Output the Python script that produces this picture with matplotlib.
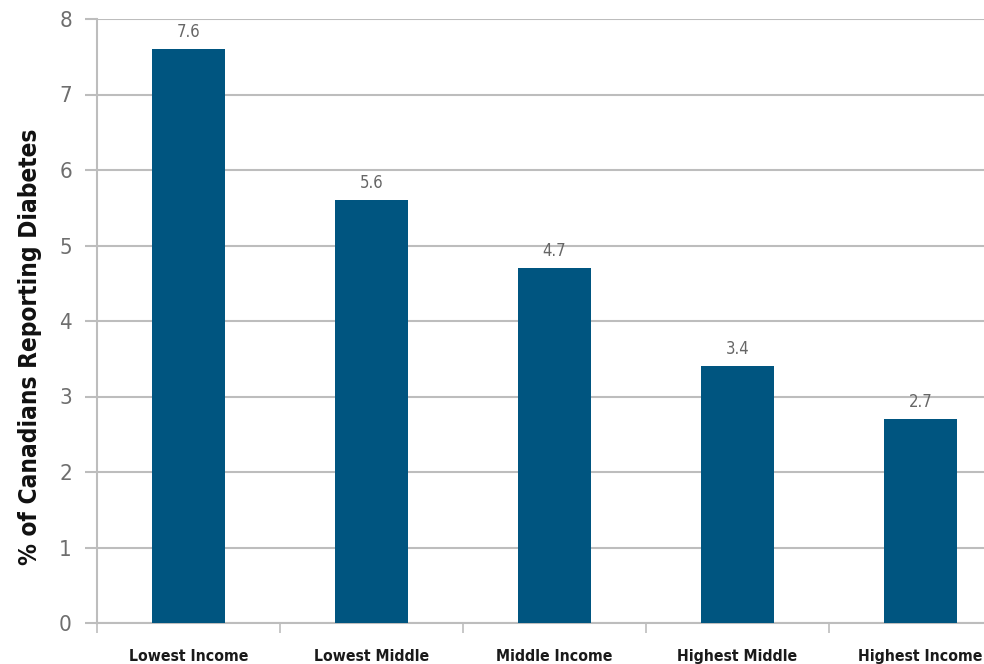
import matplotlib.pyplot as plt
import numpy as np

categories = ["Lowest Income", "Lowest Middle", "Middle Income", "Highest Middle", "Highest Income"]
values = [7.6, 5.6, 4.7, 3.4, 2.7]
y_ticks = [0, 1, 2, 3, 4, 5, 6, 7, 8]

plt.rcParams["font.family"] = ["DejaVu Sans"]
plt.rcParams["font.stretch"] = "condensed"

BAR = "#005580"
GRID = "#bdbdbd"

fig = plt.figure(figsize=(9.84, 6.64), dpi=100)
# the original is cropped on the right, so the axes run past the figure edge
ax = fig.add_axes([97 / 984, 41 / 664, 915 / 984, 604 / 664])

x = np.arange(len(categories))
bars = ax.bar(x, values, width=0.4, color=BAR, zorder=3)
ax.bar_label(bars, labels=[f"{v:.1f}" for v in values], padding=6,
             fontsize=12, color="#666666")

ax.set_xlim(-0.5, len(categories) - 0.5)
ax.set_ylim(0, 8)
ax.set_yticks(y_ticks)
ax.yaxis.grid(True, color=GRID, linewidth=1.5, zorder=0)
ax.tick_params(axis="y", length=9, width=1.5, color=GRID, labelsize=16,
               labelcolor="#6e6e6e", pad=9)

ax.set_xticks(x)
ax.set_xticklabels(categories, fontsize=11.3, fontweight="bold", color="#1a1a1a")
ax.set_xticks(np.arange(len(categories) + 1) - 0.5, minor=True)
ax.tick_params(axis="x", which="major", length=0, pad=19)
ax.tick_params(axis="x", which="minor", length=7, width=1.2, color=GRID)

for side in ["top", "right"]:
    ax.spines[side].set_visible(False)
for side in ["left", "bottom"]:
    ax.spines[side].set_color(GRID)
    ax.spines[side].set_linewidth(1.5)

ax.set_ylabel("% of Canadians Reporting Diabetes", fontsize=17.5, fontweight="bold",
              color="#111111")
ax.yaxis.set_label_coords(-0.060, 0.457)

fig.savefig("out.png", dpi=100)
